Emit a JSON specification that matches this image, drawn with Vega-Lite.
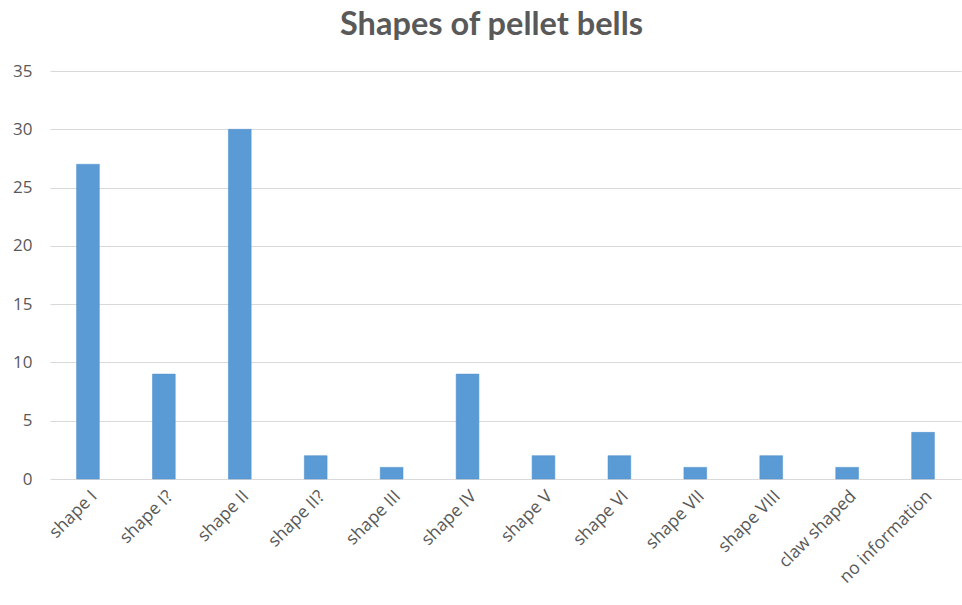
{
  "$schema": "https://vega.github.io/schema/vega-lite/v6.json",
  "autosize": "none",
  "width": 911,
  "height": 408,
  "padding": {"left": 50, "top": 71, "right": 1, "bottom": 126},
  "background": "white",
  "title": {
    "text": "Shapes of pellet bells",
    "font": "Lato",
    "fontWeight": "bold",
    "fontSize": 32.5,
    "color": "#595959",
    "anchor": "middle",
    "dx": -14,
    "offset": 21
  },
  "data": {
    "values": [
      {"shape": "shape I", "count": 27},
      {"shape": "shape I?", "count": 9},
      {"shape": "shape II", "count": 30},
      {"shape": "shape II?", "count": 2},
      {"shape": "shape III", "count": 1},
      {"shape": "shape IV", "count": 9},
      {"shape": "shape V", "count": 2},
      {"shape": "shape VI", "count": 2},
      {"shape": "shape VII", "count": 1},
      {"shape": "shape VIII", "count": 2},
      {"shape": "claw shaped", "count": 1},
      {"shape": "no information", "count": 4}
    ]
  },
  "mark": {"type": "bar", "color": "#5B9BD5", "stroke": "#4f8fca", "strokeWidth": 0.5},
  "encoding": {
    "x": {
      "field": "shape",
      "type": "nominal",
      "sort": null,
      "scale": {"paddingInner": 0.7, "paddingOuter": 0.35},
      "axis": {
        "title": null,
        "labelAngle": -45,
        "labelFont": "Open Sans",
        "labelFontSize": 17.5,
        "labelColor": "#595959",
        "labelPadding": 8,
        "ticks": false,
        "domain": false
      }
    },
    "y": {
      "field": "count",
      "type": "quantitative",
      "scale": {"domain": [0, 35], "nice": false},
      "axis": {
        "title": null,
        "values": [0, 5, 10, 15, 20, 25, 30, 35],
        "labelFont": "Open Sans",
        "labelFontSize": 17,
        "labelColor": "#595959",
        "labelPadding": 18,
        "ticks": false,
        "domain": false,
        "gridColor": "#d9d9d9",
        "gridWidth": 1
      }
    }
  },
  "config": {"view": {"stroke": null}}
}
